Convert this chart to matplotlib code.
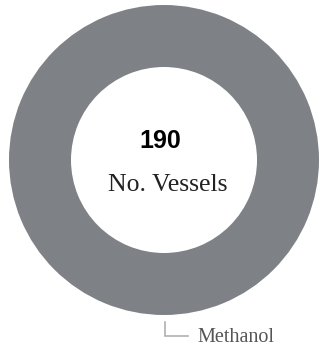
import matplotlib.pyplot as plt

fuels = ['Methanol']
vessels = [190]
colors = ['#7e8286']

W, H = 323, 348
fig = plt.figure(figsize=(W / 100, H / 100), dpi=100)
ax = fig.add_axes([0, 0, 1, 1])

cx, cy, r = 164, H - 160, 155
wedges, _ = ax.pie(vessels, colors=colors, radius=r, center=(cx, cy),
                   startangle=90, counterclock=False,
                   wedgeprops=dict(width=0.4 * r, linewidth=0))

ax.set_xlim(0, W)
ax.set_ylim(0, H)
ax.set_aspect('equal')
ax.axis('off')

# totals in the hole
ax.text(cx - 4, cy + 19, f'{sum(vessels)}', ha='center', va='center',
        fontsize=18, fontweight='bold', family='Liberation Sans')
ax.text(cx + 4, cy - 25, 'No. Vessels', ha='center', va='center',
        fontsize=18.5, family='Liberation Serif', color='#222222')

# leader line + slice label under the ring
ax.plot([165, 165, 188], [H - 322, H - 336, H - 336],
        color='#b0b0b0', lw=1.2, solid_joinstyle='miter')
ax.text(197, H - 337, fuels[0], ha='left', va='center',
        fontsize=14.5, family='Liberation Serif', color='#555555')

fig.savefig('out.png', dpi=100)
